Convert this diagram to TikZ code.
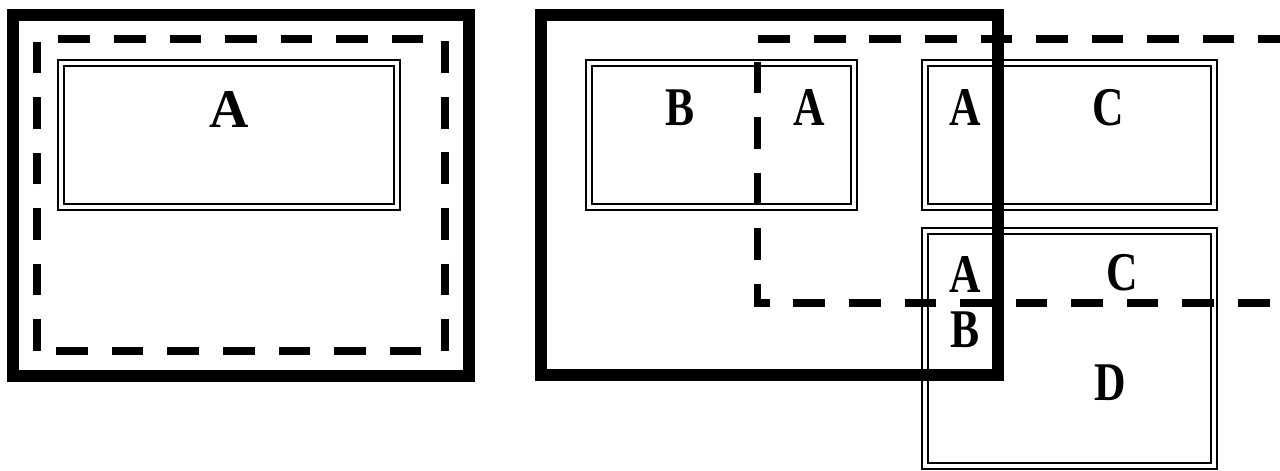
\documentclass[tikz,border=0pt]{standalone}
\usepackage{fontspec}
\setmainfont{Liberation Serif}
\tikzset{
    frame/.style={line width=3.4pt},
    region/.style={line width=2pt,dash pattern=on 9pt off 6.8pt},
    block/.style={double,double distance=1.3pt,line width=0.5pt},
    letter/.style={font=\fontsize{15.5}{18}\selectfont\bfseries,inner sep=0pt},
    narrow/.style={letter,xscale=0.8}
}
\begin{document}
\begin{tikzpicture}[x=0.01cm,y=-0.01cm]
                \useasboundingbox (0,0) rectangle (1280,470);
                % left panel
                \draw[block] (61,63) rectangle (397,207);
                \draw[frame] (13,15) rectangle (469,376);
                \draw[region] (37,351)--(37,39)--(445,39)--(445,351)--cycle;
                \node[letter] (leftA) at (229,110) {A};
                % right panel
                \draw[block] (589,63) rectangle (854,207);
                \draw[block] (925,63) rectangle (1214,207);
                \draw[block] (925,231) rectangle (1214,466);
                \draw[frame] (541,15) rectangle (998,375);
                \draw[region] (1290,39)--(757,39)--(757,303)--(1290,303);
                \node[narrow] (topB) at (680,108) {B};
                \node[narrow] (topA) at (809,108) {A};
                \node[narrow] (midA) at (965,108) {A};
                \node[narrow] (midC) at (1108,108) {C};
                \node[narrow] (lowA) at (965,275) {A};
                \node[narrow] (lowC) at (1122,273) {C};
                \node[narrow] (lowB) at (965,330) {B};
                \node[narrow] (lowD) at (1110,383) {D};
            \end{tikzpicture}
\end{document}
